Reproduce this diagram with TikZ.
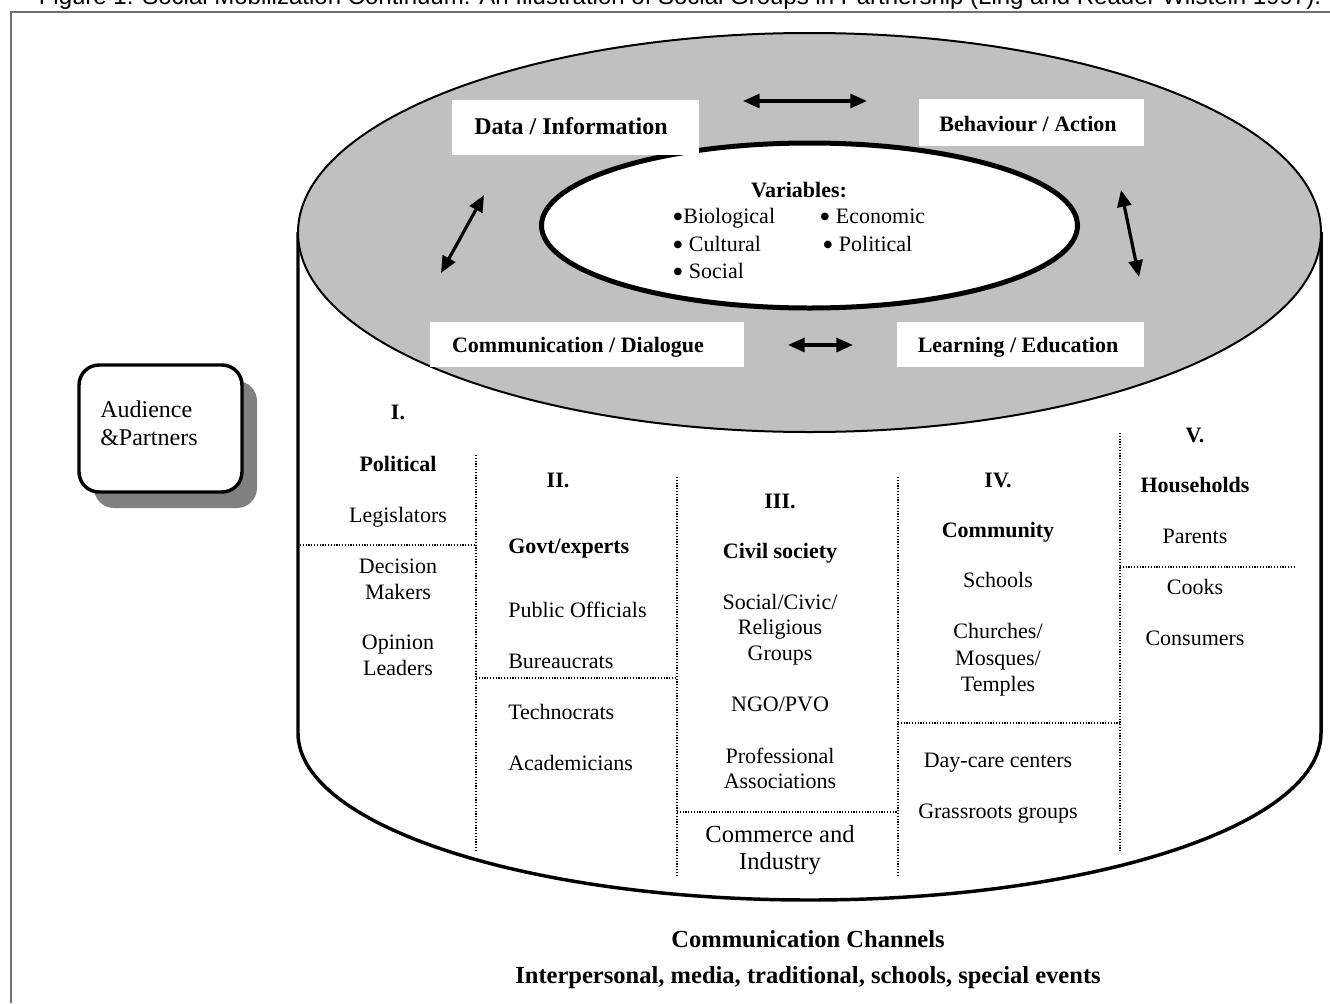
\documentclass[tikz,border=0pt]{standalone}
\usepackage{fontspec}
\setmainfont{Liberation Serif}
\newfontfamily\titlefont{Liberation Sans}
\usetikzlibrary{arrows.meta}
\definecolor{topgray}{HTML}{C0C0C0}
\definecolor{shadowgray}{HTML}{808080}
\definecolor{framegray}{HTML}{707070}
\newcommand{\bigbul}{\raisebox{-3.2pt}[0pt][0pt]{\scalebox{1.45}{•}}}
\begin{document}
\begin{tikzpicture}[x=0.75pt,y=-0.75pt,
  txt/.style={font=\fontsize{16.5}{19.8}\selectfont, inner sep=0pt, anchor=base},
  txtl/.style={txt, anchor=base west},
  btxt/.style={font=\fontsize{16.5}{19.8}\selectfont\bfseries, inner sep=0pt, anchor=base},
  bigtxt/.style={font=\fontsize{18.4}{22}\selectfont, inner sep=0pt, anchor=base},
  bigbtxt/.style={font=\fontsize{18.4}{22}\selectfont\bfseries, inner sep=0pt, anchor=base},
  whitebox/.style={fill=white, draw=none, inner sep=0pt},
  dbl/.style={{Triangle[length=12.5pt,width=10.5pt]}-{Triangle[length=12.5pt,width=10.5pt]}, line width=2.4pt},
  dotline/.style={line width=0.9pt, dash pattern=on 0.9pt off 1.2pt},
  cyl/.style={line width=2.6pt, line join=round}
]
\useasboundingbox (0,0) rectangle (1330,1003);

% title and frame
\node[font=\titlefont\fontsize{18}{21}\selectfont, inner sep=0pt, anchor=base] (title) at (680,4)
  {Figure 1: Social Mobilization Continuum: An Illustration of Social Groups in Partnership (Ling and Reader Wilstein 1997).};
\draw[framegray, line width=0.9pt] (1330,12) -- (11,12) -- (11,1003);

% cylinder body
\path[fill=white] (298,232) -- (298,733) arc[start angle=180, end angle=0, x radius=511.5, y radius=167] -- (1321,232) -- cycle;
\draw[cyl] (298,232) -- (298,733) arc[start angle=180, end angle=0, x radius=511.5, y radius=167] -- (1321,232);

% top ellipse
\draw[fill=topgray, line width=1.5pt] (809.5,232.5) ellipse[x radius=511.5, y radius=199.5];

% inner ellipse
\draw[fill=white, line width=3.75pt] (809.5,225.5) ellipse[x radius=268, y radius=82.5];
\node[btxt] (var) at (799,197) {Variables:};
\node[txtl] (v1) at (672,223) {\bigbul Biological};
\node[txtl] (v2) at (819,223) {\bigbul\ Economic};
\node[txtl] (v3) at (672,251) {\bigbul\ Cultural};
\node[txtl] (v4) at (822,251) {\bigbul\ Political};
\node[txtl] (v5) at (672,278) {\bigbul\ Social};

% white label boxes
\node[whitebox, minimum width=185.25pt, minimum height=41.25pt] (dbox) at (575.5,127.5) {};
\node[whitebox, minimum width=168.75pt, minimum height=35.25pt] (bbox) at (1031.5,122.5) {};
\node[whitebox, minimum width=235.5pt, minimum height=33.75pt] (cbox) at (587,344.5) {};
\node[whitebox, minimum width=185.25pt, minimum height=33.75pt] (lbox) at (1020.5,344.5) {};
\node[font=\fontsize{18}{21}\selectfont\bfseries, inner sep=0pt, anchor=base] (dlab) at (571,134) {Data / Information};
\node[btxt] (blab) at (1028,131) {Behaviour / Action};
\node[btxt] (clab) at (578,352) {Communication / Dialogue};
\node[btxt] (llab) at (1018,352) {Learning / Education};

% arrows
\coordinate (a1s) at (743,101); \coordinate (a1e) at (867,101);
\coordinate (a2s) at (484,195); \coordinate (a2e) at (441,273);
\coordinate (a3s) at (1121,190); \coordinate (a3e) at (1139,277);
\coordinate (a4s) at (788,345); \coordinate (a4e) at (853,345);
\draw[dbl] (a1s) -- (a1e);
\draw[dbl] (a2s) -- (a2e);
\draw[dbl] (a3s) -- (a3e);
\draw[dbl] (a4s) -- (a4e);

% dotted dividers
\draw[dotline] (476,455) -- (476,850);
\draw[dotline] (677,477) -- (677,875);
\draw[dotline] (898,477) -- (898,875);
\draw[dotline] (1120,433) -- (1120,853);
\draw[dotline] (300,545) -- (476,545);
\draw[dotline] (476,678) -- (677,678);
\draw[dotline] (677,812) -- (898,812);
\draw[dotline] (898,723) -- (1120,723);
\draw[dotline] (1120,567) -- (1296,567);

% column I
\node[btxt] (c1h) at (398,419) {I.};
\node[btxt] (c1t) at (398,471) {Political};
\node[txt] (c1a) at (398,522) {Legislators};
\node[txt] (c1b) at (398,573) {Decision};
\node[txt] (c1c) at (398,599) {Makers};
\node[txt] (c1d) at (398,649) {Opinion};
\node[txt] (c1e) at (398,675) {Leaders};

% column II
\node[btxt] (c2h) at (558,487) {II.};
\node[btxt, anchor=base west] (c2t) at (508,553) {Govt/experts};
\node[txtl] (c2a) at (508,617) {Public Officials};
\node[txtl] (c2b) at (508,668) {Bureaucrats};
\node[txtl] (c2c) at (508,719) {Technocrats};
\node[txtl] (c2d) at (508,770) {Academicians};

% column III
\node[btxt] (c3h) at (780,508) {III.};
\node[btxt] (c3t) at (780,558) {Civil society};
\node[txt] (c3a) at (780,609) {Social/Civic/};
\node[txt] (c3b) at (780,634) {Religious};
\node[txt] (c3c) at (780,660) {Groups};
\node[txt] (c3d) at (780,711) {NGO/PVO};
\node[txt] (c3e) at (780,763) {Professional};
\node[txt] (c3f) at (780,788) {Associations};
\node[bigtxt] (c3g) at (780,842) {Commerce and};
\node[bigtxt] (c3i) at (780,869) {Industry};

% column IV
\node[btxt] (c4h) at (998,487) {IV.};
\node[btxt] (c4t) at (998,537) {Community};
\node[txt] (c4a) at (998,587) {Schools};
\node[txt] (c4b) at (998,638) {Churches/};
\node[txt] (c4c) at (998,665) {Mosques/};
\node[txt] (c4d) at (998,691) {Temples};
\node[txt] (c4e) at (998,767) {Day-care centers};
\node[txt] (c4f) at (998,818) {Grassroots groups};

% column V
\node[btxt] (c5h) at (1195,442) {V.};
\node[btxt] (c5t) at (1195,492) {Households};
\node[txt] (c5a) at (1195,543) {Parents};
\node[txt] (c5b) at (1195,594) {Cooks};
\node[txt] (c5c) at (1195,645) {Consumers};

% audience box
\node[fill=shadowgray, draw=none, rounded corners=15pt, minimum width=122.25pt, minimum height=95.25pt, inner sep=0pt] (ashadow) at (175.5,444.5) {};
\node[fill=white, draw, line width=2.6pt, rounded corners=15pt, minimum width=122.25pt, minimum height=95.25pt, inner sep=0pt] (abox) at (160.5,428.5) {};
\node[font=\fontsize{18}{21}\selectfont, inner sep=0pt, anchor=base west] (aud1) at (100,417) {Audience};
\node[font=\fontsize{18}{21}\selectfont, inner sep=0pt, anchor=base west] (aud2) at (100,445) {\&Partners};

% bottom captions
\node[bigbtxt] (ch1) at (808,947) {Communication Channels};
\node[bigbtxt] (ch2) at (808,983) {Interpersonal, media, traditional, schools, special events};
\end{tikzpicture}
\end{document}
